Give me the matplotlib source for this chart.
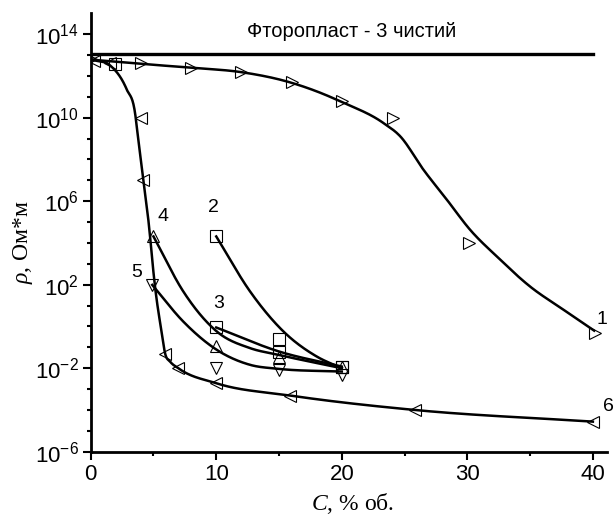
import numpy as np
import matplotlib
matplotlib.use("Agg")
import matplotlib.pyplot as plt

plt.rcParams['font.family'] = ['Liberation Sans', 'DejaVu Sans']
plt.rcParams['mathtext.fontset'] = 'custom'
plt.rcParams['mathtext.rm'] = 'Liberation Serif'
plt.rcParams['mathtext.it'] = 'Liberation Serif:italic'

# markers (x in % об., y as log10 of resistivity)
m1_x = [0, 4, 8, 12, 16, 20, 24.1, 30.1, 40.2]
m1_y = [12.8, 12.6, 12.4, 12.2, 11.7, 10.8, 10.0, 4.0, -0.32]
m2_x = [10, 15, 20]
m2_y = [4.31, -0.61, -1.92]
m3_x = [10, 15, 20]
m3_y = [-0.05, -1.23, -1.92]
m4_x = [5, 10, 15, 20]
m4_y = [4.31, -0.96, -1.44, -1.95]
m5_x = [4.9, 10, 15, 20]
m5_y = [1.99, -2.0, -2.11, -2.32]
m6_x = [0.3, 1.5, 4.0, 4.15, 5.9, 6.95, 10, 15.9, 25.8, 40]
m6_y = [12.7, 12.6, 10.0, 7.0, -1.3, -2.0, -2.72, -3.31, -4.0, -4.56]
extra_x = [1.9]
extra_y = [12.55]

# fitted curves
l1_x = [0, 4, 8, 12, 16, 18.3, 20, 23.3, 24.65, 26.5, 28.37, 30.22, 32.35, 35.0, 37.66, 40.1]
l1_y = [12.78, 12.58, 12.39, 12.18, 11.67, 11.19, 10.75, 9.75, 9.11, 7.51, 6.07, 4.63, 3.35, 1.91, 0.8, -0.2]
l2_x = [10, 12.7, 15.35, 18, 20]
l2_y = [4.31, 1.67, -0.24, -1.44, -2.0]
l3_x = [10, 15, 20]
l3_y = [-0.05, -1.2, -1.92]
l4_x = [5, 7.38, 10.04, 12.7, 14.95, 20]
l4_y = [4.31, 1.67, -0.24, -1.04, -1.36, -2.0]
l5_x = [4.9, 7.38, 10.04, 12.7, 14.95, 20]
l5_y = [1.99, 0.23, -1.12, -1.84, -2.03, -2.16]
l6_x = [0.3, 1.55, 2.87, 3.53, 3.79, 4.19, 4.59, 5.12, 5.66, 5.92, 6.32, 6.98, 10, 15.9, 25.8, 40]
l6_y = [12.75, 12.5, 11.35, 10.23, 8.95, 7.03, 5.11, 1.91, -0.32, -1.28, -1.68, -2.0, -2.72, -3.31, -4.0, -4.56]

pure_x = [0, 40]
pure_y = [13.03, 13.03]

curve_labels = ['1', '2', '3', '4', '5', '6']


def smooth(x, y, xn):
    # monotone cubic hermite with three-point slopes (Fritsch-Carlson limiter)
    x = np.asarray(x, float)
    y = np.asarray(y, float)
    h = np.diff(x)
    d = np.diff(y) / h
    n = len(x)
    m = np.zeros(n)
    m[0] = d[0]
    m[-1] = d[-1]
    for k in range(1, n - 1):
        if d[k - 1] * d[k] > 0:
            s = (h[k] * d[k - 1] + h[k - 1] * d[k]) / (h[k - 1] + h[k])
            lim = 3 * min(abs(d[k - 1]), abs(d[k]))
            m[k] = np.sign(s) * min(abs(s), lim)
    idx = np.clip(np.searchsorted(x, xn) - 1, 0, n - 2)
    t = (xn - x[idx]) / h[idx]
    h00 = 2 * t**3 - 3 * t**2 + 1
    h10 = t**3 - 2 * t**2 + t
    h01 = -2 * t**3 + 3 * t**2
    h11 = t**3 - t**2
    return h00 * y[idx] + h10 * h[idx] * m[idx] + h01 * y[idx + 1] + h11 * h[idx] * m[idx + 1]


fig = plt.figure(figsize=(6.15, 5.15), dpi=100)
ax = fig.add_axes([0.1475, 0.1229, 0.8390, 0.8513])

for lx, ly in [(l1_x, l1_y), (l2_x, l2_y), (l3_x, l3_y), (l4_x, l4_y), (l5_x, l5_y), (l6_x, l6_y)]:
    xs = np.linspace(lx[0], lx[-1], 500)
    ax.plot(xs, 10 ** smooth(lx, ly, xs), color='black', lw=1.8, zorder=2)

ax.plot(pure_x, 10 ** np.asarray(pure_y), color='black', lw=2.4, zorder=2)

mk = dict(ls='none', ms=8, mfc='none', mec='black', mew=0.8, zorder=3)
ax.plot(m1_x, 10 ** np.asarray(m1_y), marker='>', **mk)
ax.plot(m2_x, 10 ** np.asarray(m2_y), marker='s', **mk)
ax.plot(m3_x, 10 ** np.asarray(m3_y), marker='s', **mk)
ax.plot(m4_x, 10 ** np.asarray(m4_y), marker='^', **mk)
ax.plot(m5_x, 10 ** np.asarray(m5_y), marker='v', **mk)
ax.plot(m6_x, 10 ** np.asarray(m6_y), marker='<', **mk)
ax.plot(extra_x, 10 ** np.asarray(extra_y), marker='s', **mk)

label_pos = [(40.7, 0.32), (9.75, 5.68), (10.17, 1.12), (5.76, 5.26), (3.7, 2.58), (41.2, -3.84)]
for lab, (tx, ty) in zip(curve_labels, label_pos):
    ax.text(tx, 10 ** ty, lab, fontsize=14, ha='center', va='center', clip_on=False)

ax.text(20.8, 10 ** 14.12, 'Фторопласт - 3 чистий', fontsize=14.5, ha='center', va='center')

ax.set_yscale('log')
ax.set_xlim(0, 41.1)
ax.set_ylim(1e-6, 1e15)

major_exp = list(range(-6, 15, 4))
ax.set_yticks([10.0 ** k for k in major_exp])
ax.set_yticklabels([r'$\mathdefault{10^{%d}}$' % k for k in major_exp])
ax.set_yticks([10.0 ** k for k in range(-6, 15) if k not in major_exp], minor=True)
ax.set_yticklabels([], minor=True)
ax.set_xticks([0, 10, 20, 30, 40])
ax.set_xticks([5, 15, 25, 35], minor=True)

for s in ['top', 'right']:
    ax.spines[s].set_visible(False)
for s in ['left', 'bottom']:
    ax.spines[s].set_linewidth(2)

ax.tick_params(which='major', direction='out', length=5.5, width=1.5, labelsize=16, pad=3)
ax.tick_params(which='minor', direction='out', length=3, width=1.5)

ax.set_xlabel(r'$C$, % об.', family='Liberation Serif', fontsize=17)
ax.set_ylabel(r'$\rho$, Ом*м', family='Liberation Serif', fontsize=17)
ax.xaxis.set_label_coords(0.508, -0.09)
ax.yaxis.set_label_coords(-0.108, 0.478)

fig.savefig('out.png', dpi=100)
